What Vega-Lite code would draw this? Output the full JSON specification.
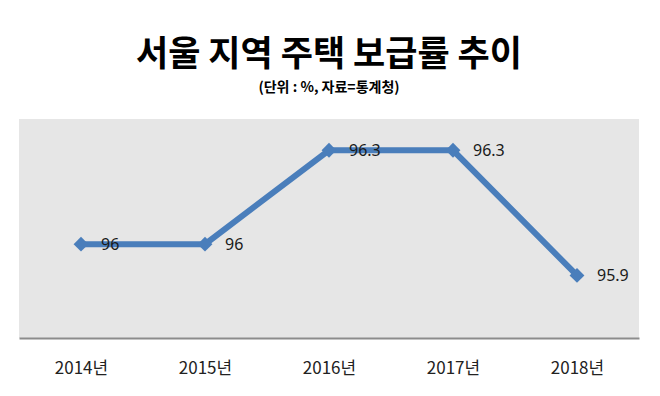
{
  "$schema": "https://vega.github.io/schema/vega-lite/v6.json",
  "width": 620,
  "height": 219,
  "autosize": {"type": "none"},
  "padding": {"left": 19, "top": 119, "right": 21, "bottom": 58},
  "background": "#ffffff",
  "title": {
    "text": "서울 지역 주택 보급률 추이",
    "subtitle": "(단위 : %, 자료=통계청)",
    "anchor": "middle",
    "font": "Noto Sans CJK KR",
    "fontSize": 35,
    "fontWeight": "bold",
    "color": "#000000",
    "subtitleFont": "Noto Sans CJK KR",
    "subtitleFontSize": 14,
    "subtitleFontWeight": "bold",
    "subtitleColor": "#000000",
    "subtitlePadding": 8,
    "offset": 24
  },
  "data": {
    "values": [
      {"year": "2014년", "value": 96},
      {"year": "2015년", "value": 96},
      {"year": "2016년", "value": 96.3},
      {"year": "2017년", "value": 96.3},
      {"year": "2018년", "value": 95.9}
    ]
  },
  "encoding": {
    "x": {
      "field": "year",
      "type": "ordinal",
      "sort": null,
      "scale": {"type": "point", "padding": 0.5},
      "axis": {
        "title": null,
        "labelAngle": 0,
        "ticks": false,
        "domainColor": "#8c8c8c",
        "domainWidth": 2,
        "labelFont": "Noto Sans CJK KR",
        "labelFontSize": 17,
        "labelColor": "#222222",
        "labelBaseline": "middle",
        "labelPadding": 30
      }
    },
    "y": {
      "field": "value",
      "type": "quantitative",
      "scale": {"domain": [95.7, 96.4], "zero": false, "nice": false},
      "axis": null
    }
  },
  "layer": [
    {
      "mark": {"type": "line", "color": "#4a7ebb", "strokeWidth": 6, "strokeJoin": "miter"}
    },
    {
      "mark": {"type": "point", "shape": "diamond", "size": 220, "filled": true, "color": "#4a7ebb", "opacity": 1}
    },
    {
      "mark": {"type": "text", "align": "left", "baseline": "middle", "dx": 20, "dy": 1, "font": "Noto Sans", "fontSize": 16, "color": "#1a1a1a"},
      "encoding": {"text": {"field": "value", "type": "quantitative"}}
    }
  ],
  "config": {
    "view": {"fill": "#e6e6e6", "stroke": null}
  }
}
